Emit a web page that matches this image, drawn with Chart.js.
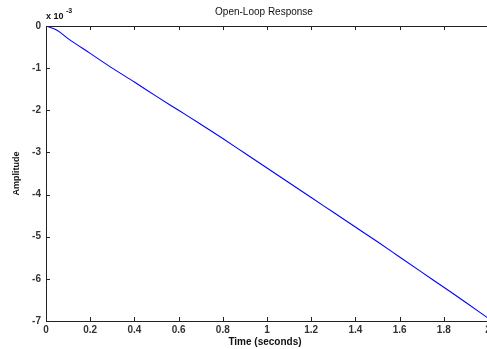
<!DOCTYPE html>
<html>
<head>
<meta charset="utf-8">
<script src="https://cdn.jsdelivr.net/npm/chart.js@4"></script>
<style>
    html, body { margin: 0; padding: 0; background: #fff; overflow: hidden; }
    #wrap { width: 490px; height: 349px; }
</style>
</head>
<body>
<div id="wrap"><canvas id="respChart"></canvas></div>
<script>
// time (s) and amplitude (x 10^-3)
const timeValues = [0, 0.05, 0.1, 0.2, 0.3, 0.4, 0.5, 0.6, 0.7, 0.8, 0.9, 1.0,
    1.1, 1.2, 1.3, 1.4, 1.5, 1.6, 1.7, 1.8, 1.9, 2.0];
const amplitudeValues = [0, -0.1, -0.3, -0.65, -1.0, -1.33, -1.67, -2.0, -2.33, -2.67, -3.02, -3.37,
    -3.72, -4.07, -4.42, -4.77, -5.12, -5.48, -5.84, -6.2, -6.56, -6.93];
const xTicks = [0, 0.2, 0.4, 0.6, 0.8, 1, 1.2, 1.4, 1.6, 1.8, 2];
const yTicks = [0, -1, -2, -3, -4, -5, -6, -7];

const axisColor = '#222';
const tickFont = { family: 'Liberation Sans, Arial, sans-serif', size: 10, weight: 'bold' };

// matlab style box: inward ticks, top border and texts
const matlabFrame = {
    id: 'matlabFrame',
    afterDraw(chart) {
        const { ctx, chartArea, scales } = chart;
        const { left, right, top, bottom } = chartArea;
        ctx.save();
        ctx.strokeStyle = axisColor;
        ctx.lineWidth = 1;

        ctx.beginPath();
        ctx.moveTo(left, top + 0.5);
        ctx.lineTo(right, top + 0.5);
        ctx.stroke();

        ctx.beginPath();
        xTicks.forEach(v => {
            const x = Math.round(scales.x.getPixelForValue(v)) + 0.5;
            ctx.moveTo(x, bottom);
            ctx.lineTo(x, bottom - 4);
            ctx.moveTo(x, top);
            ctx.lineTo(x, top + 4);
        });
        yTicks.forEach(v => {
            const y = Math.round(scales.y.getPixelForValue(v)) + 0.5;
            ctx.moveTo(left, y);
            ctx.lineTo(left + 4, y);
        });
        ctx.stroke();

        ctx.fillStyle = '#111';
        ctx.textAlign = 'center';
        ctx.textBaseline = 'middle';
        ctx.font = '10px Liberation Sans, Arial, sans-serif';
        ctx.fillText('Open-Loop Response', 264, 12);

        ctx.font = 'bold 10px Liberation Sans, Arial, sans-serif';
        ctx.fillText('Time (seconds)', 265, 342);

        ctx.save();
        ctx.translate(17, (top + bottom) / 2);
        ctx.rotate(-Math.PI / 2);
        ctx.font = 'bold 9px Liberation Sans, Arial, sans-serif';
        ctx.fillText('Amplitude', 0, 0);
        ctx.restore();

        ctx.textAlign = 'left';
        ctx.font = 'bold 9px Liberation Sans, Arial, sans-serif';
        ctx.fillText('x 10', 46, 17);
        ctx.font = 'bold 7px Liberation Sans, Arial, sans-serif';
        ctx.fillText('-3', 66, 11);
        ctx.restore();
    }
};

new Chart(document.getElementById('respChart'), {
    type: 'line',
    data: {
        datasets: [{
            label: 'Open-Loop Response',
            data: timeValues.map((t, i) => ({ x: t, y: amplitudeValues[i] })),
            borderColor: '#0000ff',
            borderWidth: 1.1,
            pointRadius: 0,
            fill: false,
            cubicInterpolationMode: 'monotone',
        }],
    },
    options: {
        responsive: true,
        maintainAspectRatio: false,
        animation: false,
        layout: { padding: { left: 0, right: 2, top: 26, bottom: 0 } },
        plugins: {
            legend: { display: false },
            tooltip: { enabled: false },
        },
        scales: {
            x: {
                type: 'linear',
                min: 0,
                max: 2,
                afterFit: scale => {
                    scale.height = 28;
                    scale.paddingLeft = 0;
                    scale.paddingRight = 0;
                },
                afterBuildTicks: scale => { scale.ticks = xTicks.map(v => ({ value: v })); },
                grid: { display: false, drawTicks: false },
                border: { display: true, color: axisColor, width: 1 },
                ticks: {
                    color: '#333',
                    font: tickFont,
                    padding: 3,
                    maxRotation: 0,
                    autoSkip: false,
                    callback: v => String(Math.round(v * 10) / 10),
                },
            },
            y: {
                min: -7,
                max: 0,
                afterFit: scale => {
                    scale.width = 46;
                    scale.paddingTop = 0;
                    scale.paddingBottom = 0;
                },
                afterBuildTicks: scale => { scale.ticks = yTicks.map(v => ({ value: v })); },
                grid: { display: false, drawTicks: false },
                border: { display: true, color: axisColor, width: 1 },
                ticks: { color: '#333', font: tickFont, padding: 5 },
            },
        },
    },
    plugins: [matlabFrame],
});
</script>
</body>
</html>
